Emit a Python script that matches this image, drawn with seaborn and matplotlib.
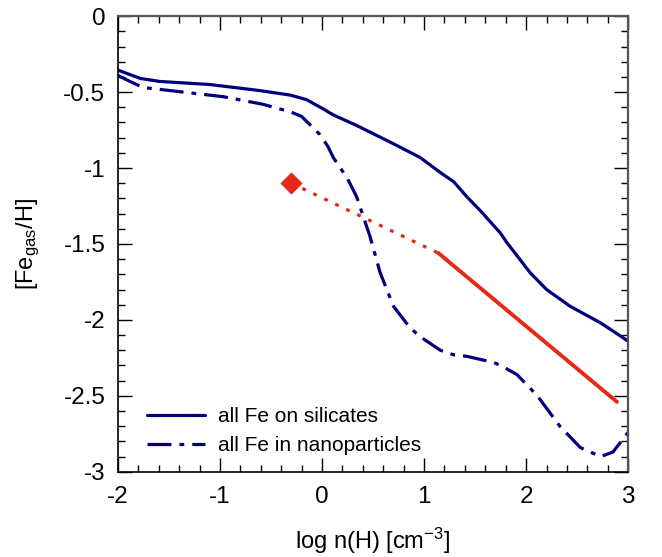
import numpy as np
import pandas as pd
import matplotlib.pyplot as plt
import seaborn as sns

# all Fe on silicates (solid navy)
sil_x = [-2.0, -1.78, -1.59, -1.10, -0.61, -0.31, -0.15, 0.01, 0.11, 0.34, 0.67, 0.96,
         1.16, 1.29, 1.42, 1.55, 1.75, 1.81, 2.04, 2.20, 2.43, 2.73, 3.0]
sil_y = [-0.355, -0.41, -0.43, -0.45, -0.49, -0.52, -0.55, -0.61, -0.65, -0.72, -0.83, -0.93,
         -1.03, -1.09, -1.19, -1.28, -1.43, -1.49, -1.69, -1.80, -1.91, -2.02, -2.14]

# all Fe in nanoparticles (dash-dot navy)
nano_x = [-2.0, -1.85, -1.75, -1.36, -0.97, -0.58, -0.31, -0.20, -0.02, 0.06, 0.11, 0.25,
          0.34, 0.47, 0.57, 0.70, 0.86, 0.96, 1.16, 1.29, 1.42, 1.68, 1.75, 1.91, 2.11,
          2.33, 2.53, 2.73, 2.85, 3.0]
nano_y = [-0.39, -0.44, -0.47, -0.50, -0.53, -0.58, -0.63, -0.66, -0.78, -0.86, -0.93, -1.07,
          -1.19, -1.45, -1.69, -1.91, -2.05, -2.11, -2.20, -2.23, -2.24, -2.28, -2.30, -2.36, -2.50,
          -2.70, -2.84, -2.90, -2.87, -2.74]

# observations: single point + fitted trend
obs_x = [-0.30]
obs_y = [-1.10]
fit_x = [1.14, 2.89]
fit_y = [-1.56, -2.54]

navy = '#00007f'
red = '#e62817'

sns.set_style('ticks')
plt.rcParams['font.family'] = ['Liberation Sans', 'DejaVu Sans']
plt.rcParams['mathtext.default'] = 'regular'
plt.rcParams['axes.unicode_minus'] = False
plt.rcParams['text.color'] = 'black'
plt.rcParams['axes.labelcolor'] = 'black'
plt.rcParams['xtick.color'] = 'black'
plt.rcParams['ytick.color'] = 'black'

fig = plt.figure(figsize=(6.62, 5.57), dpi=100)
ax = fig.add_axes([0.178, 0.153, 0.771, 0.818])

sns.lineplot(x=sil_x, y=sil_y, ax=ax, color=navy, lw=2.3, sort=False,
             label='all Fe on silicates')
sns.lineplot(x=nano_x, y=nano_y, ax=ax, color=navy, lw=2.3, sort=False,
             label='all Fe in nanoparticles')
ax.lines[-1].set_dashes((7.5, 2.5, 1.5, 2.5))

sns.lineplot(x=[obs_x[0], fit_x[0]], y=[obs_y[0], fit_y[0]], ax=ax, color=red, lw=2.3,
             sort=False)
ax.lines[-1].set_dashes((1.2, 2.6))
sns.lineplot(x=fit_x, y=fit_y, ax=ax, color=red, lw=2.8, sort=False)
sns.scatterplot(x=obs_x, y=obs_y, ax=ax, color=red, marker='D', s=110,
                edgecolor=red, zorder=5)

xticks = [-2, -1, 0, 1, 2, 3]
yticks = [-3, -2.5, -2, -1.5, -1, -0.5, 0]
ax.set_xlim(-2, 3)
ax.set_ylim(-3, 0)
ax.set_xticks(xticks)
ax.set_xticklabels([str(t) for t in xticks])
ax.set_xticks(np.arange(-2, 3.01, 0.2), minor=True)
ax.set_yticks(yticks)
ax.set_yticklabels(['-3', '-2.5', '-2', '-1.5', '-1', '-0.5', '0'])
ax.set_yticks(np.arange(-3, 0.01, 0.1), minor=True)
ax.tick_params(which='both', direction='in', top=True, right=True, labelsize=17.5,
               color='black', width=1)
ax.tick_params(which='major', length=10)
ax.tick_params(axis='x', which='major', pad=10)
ax.tick_params(axis='y', which='major', pad=9)
ax.tick_params(which='minor', length=5)
for side in ['left', 'bottom']:
    ax.spines[side].set_linewidth(1.2)
    ax.spines[side].set_color('black')
for side in ['top', 'right']:
    ax.spines[side].set_linewidth(1.6)
    ax.spines[side].set_color('#555555')

ax.set_xlabel('log n(H) [cm$^{-3}$]', fontsize=17)
ax.set_ylabel('[Fe$_{gas}$/H]', fontsize=17)
ax.xaxis.set_label_coords(0.5, -0.118)
ax.yaxis.set_label_coords(-0.148, 0.5)

ax.legend(loc='lower left', bbox_to_anchor=(0.02, -0.005), frameon=False, fontsize=15,
          handlelength=2.8, handletextpad=0.6, labelspacing=0.5)

fig.savefig('out.png', dpi=100)
